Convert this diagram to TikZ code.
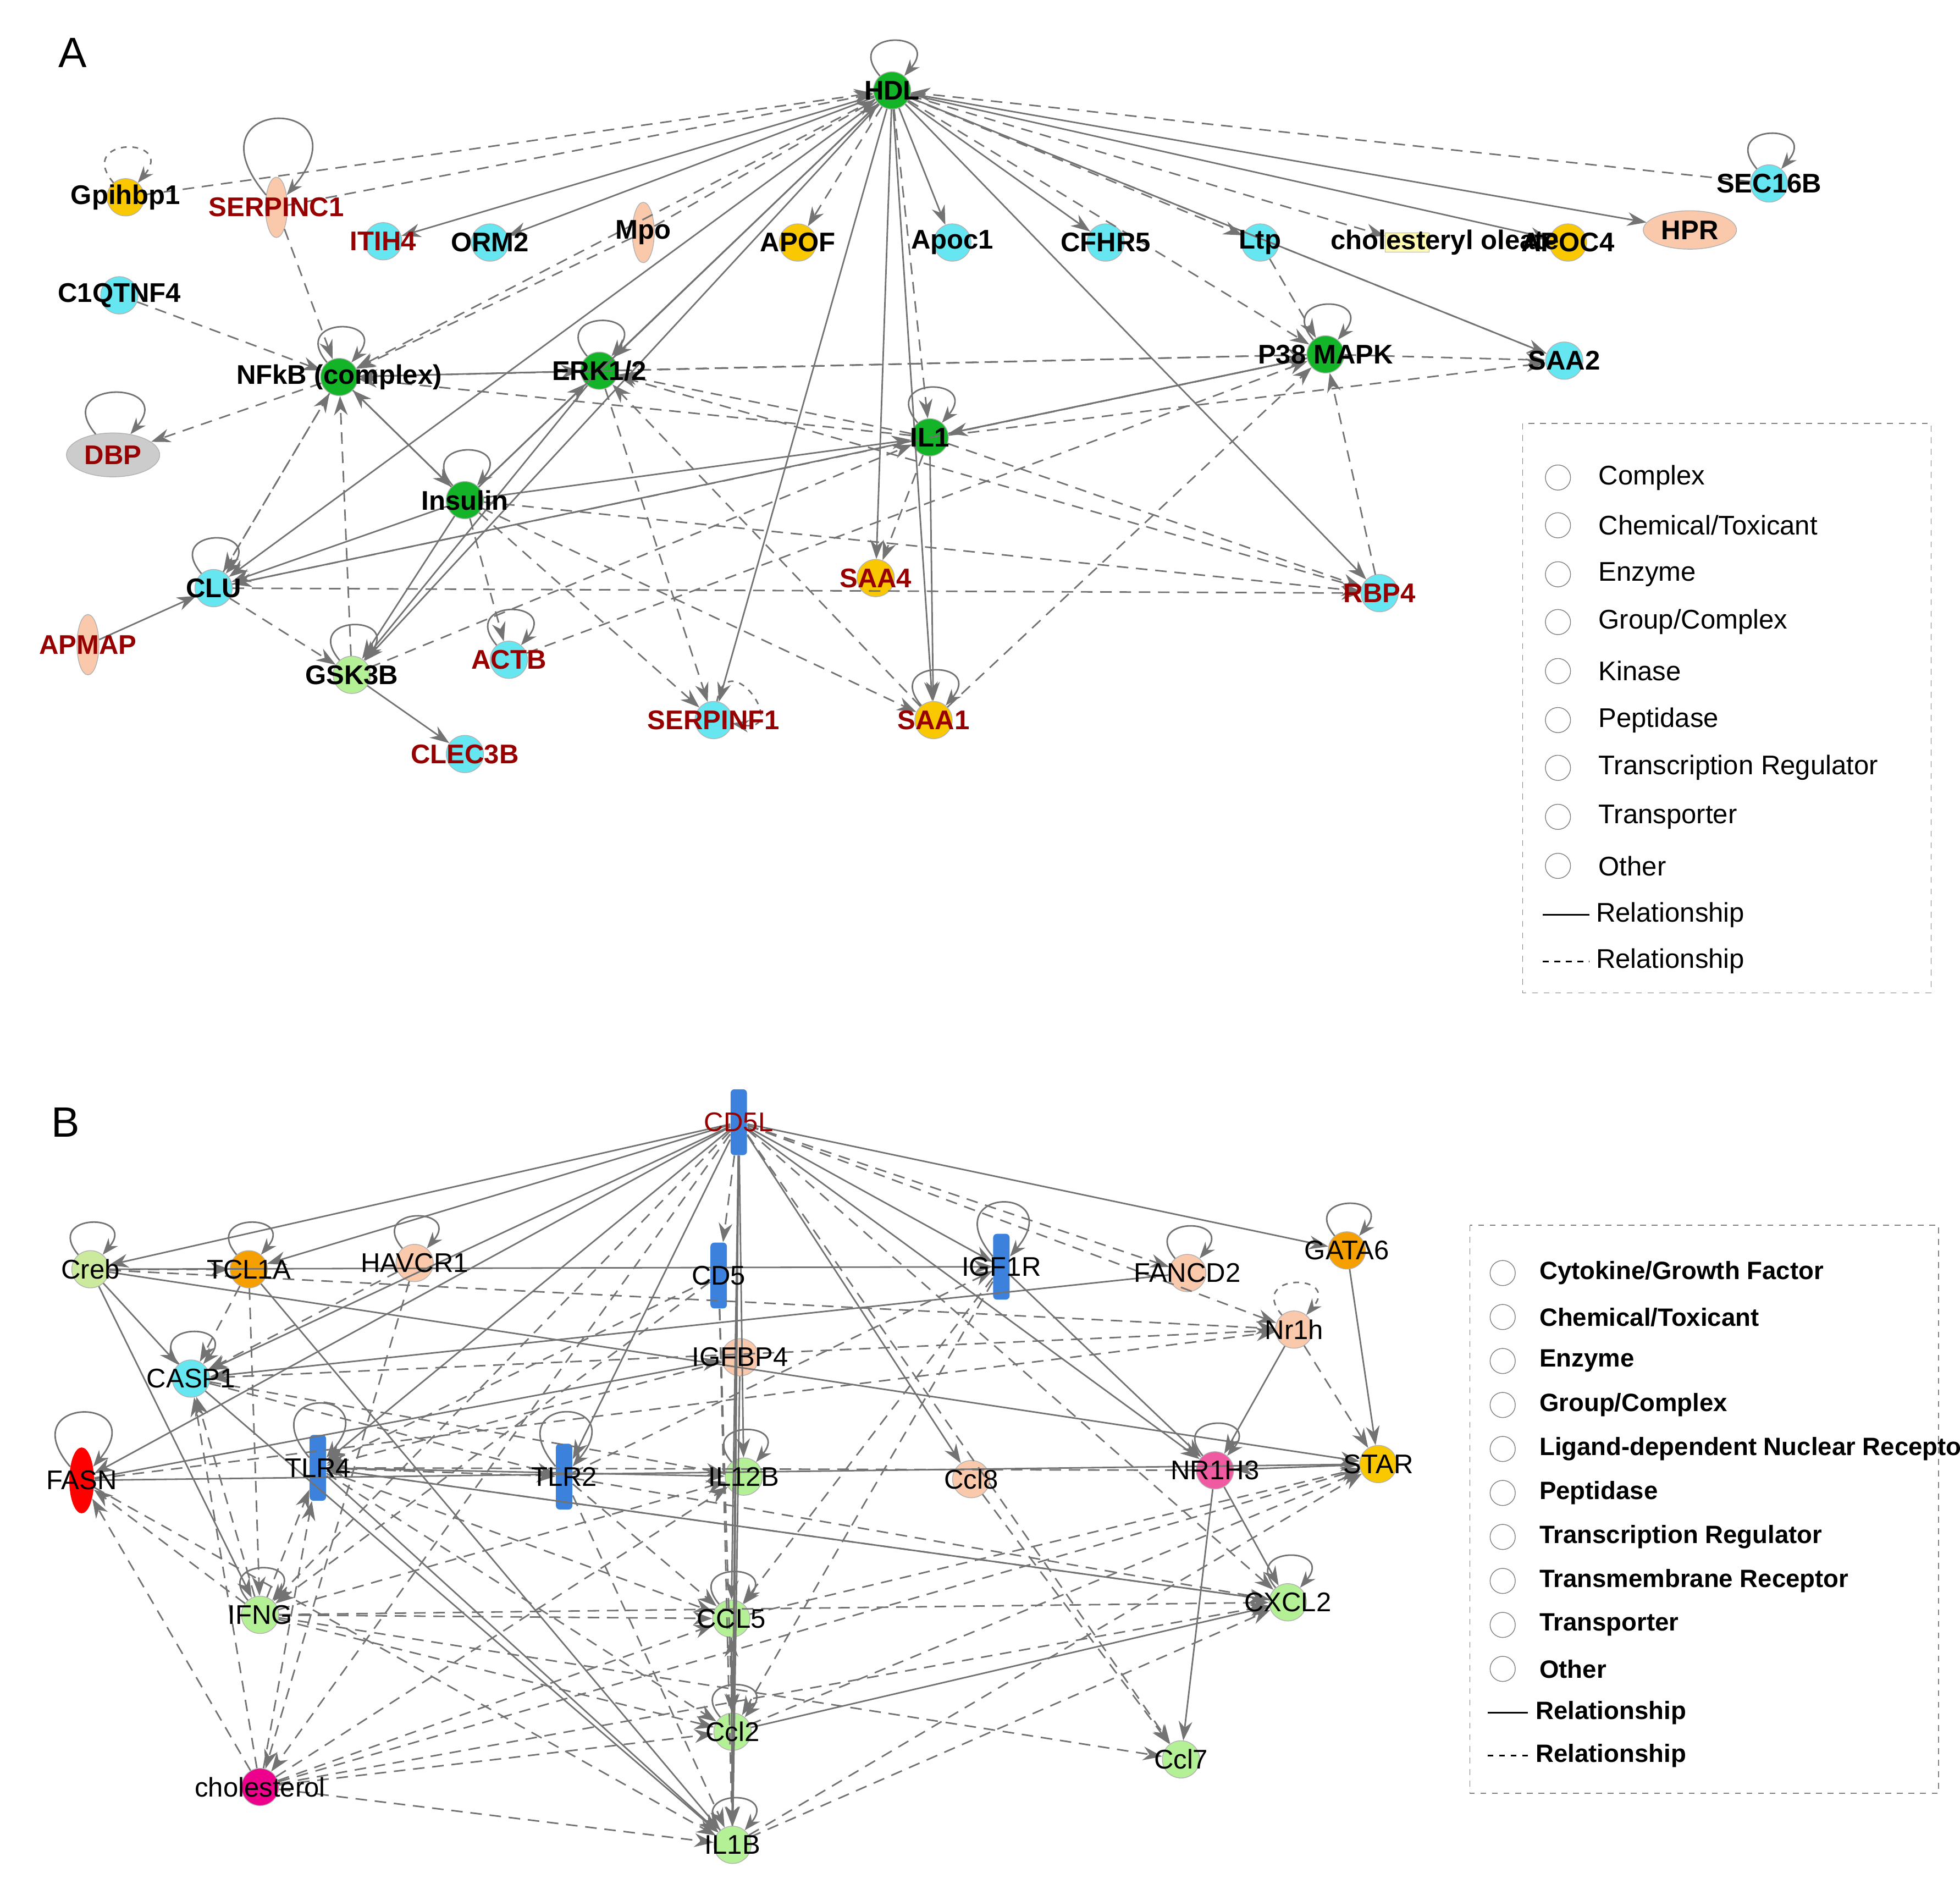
\documentclass[tikz,border=0pt]{standalone}
\usepackage{fontspec}
\setmainfont{Liberation Sans}
\usetikzlibrary{arrows.meta,shapes.geometric}
\definecolor{gcyan}{RGB}{102,230,240}
\definecolor{ggreen}{RGB}{20,180,40}
\definecolor{ggold}{RGB}{250,200,0}
\definecolor{gpeach}{RGB}{250,200,170}
\definecolor{glime}{RGB}{180,240,150}
\definecolor{gblue}{RGB}{60,130,220}
\definecolor{gorange}{RGB}{245,160,0}
\definecolor{gpink}{RGB}{240,90,160}
\definecolor{gred}{RGB}{150,0,0}
\tikzset{
  gene/.style={circle,draw=gray!60,fill=#1,minimum size=0.68cm,inner sep=0pt},
  enz/.style={ellipse,draw=gray!60,fill=gpeach,minimum width=0.4cm,minimum height=1.1cm,inner sep=0pt},
  rec/.style={rounded corners=2pt,fill=gblue,minimum width=0.3cm,minimum height=1.2cm,inner sep=0pt},
  lab/.style={font=\bfseries\fontsize{14}{16}\selectfont,text=black,inner sep=0pt},
  redlab/.style={lab,text=gred},
  rel/.style={draw=gray!90!black,thick,-{Stealth[length=3.5mm,width=2.5mm]}},
  drel/.style={rel,dashed,dash pattern=on 6pt off 4pt},
  slf/.style={draw=gray!90!black,thick,-{Stealth[length=3mm]}},
  rnd/.style={loop,out=130,in=50,min distance=#1},
  leg/.style={font=\fontsize{14}{16}\selectfont,anchor=west,inner sep=0pt},
  legb/.style={leg,font=\bfseries\fontsize{13}{16}\selectfont}
}
\begin{document}
\begin{tikzpicture}[x=0.0229cm,y=-0.0229cm]
\useasboundingbox (0,0) rectangle (1560,1499);
\node[font=\fontsize{22}{24}\selectfont] at (58,42) {A};
\node[font=\fontsize{22}{24}\selectfont] at (52,893) {B};

% panel A nodes
\foreach \n/\x/\y/\c in {HDL/710/72/ggreen, ITIH/305/192/gcyan, ORM/390/193/gcyan, Apoc/758/193/gcyan,
  CFHR/880/193/gcyan, Ltp/1003/193/gcyan, SEC/1408/146/gcyan, CqT/95/235/gcyan, NFkB/270/300/ggreen,
  ERK/477/295/ggreen, P38/1055/282/ggreen, SAAb/1245/287/gcyan, IL/740/348/ggreen, Ins/370/398/ggreen,
  CLU/170/468/gcyan, RBP/1098/472/gcyan, GSK/280/537/glime, ACTB/405/525/gcyan, SPF/568/573/gcyan,
  CLEC/370/600/gcyan, Gpi/100/157/ggold, APOF/635/193/ggold, APOC/1248/193/ggold, SAAd/697/460/ggold,
  SAAa/743/573/ggold}
  \node[gene=\c] (\n) at (\x,\y) {};
\node[ellipse,draw=gray!60,fill=gray!40,minimum width=1.7cm,minimum height=0.8cm] (DBP) at (90,362) {};
\node[enz] (SPC) at (220,165) {};
\node[enz] (Mpo) at (512,185) {};
\node[enz] (APM) at (70,513) {};
\node[ellipse,draw=gray!60,fill=gpeach,minimum width=1.7cm,minimum height=0.7cm] (HPR) at (1345,183) {};
\node[draw=gray!60,fill=yellow!30,minimum width=0.8cm,minimum height=0.35cm] (Chol) at (1120,193) {};

% panel A edges
\foreach \a/\b in {HDL/ITIH, HDL/ORM, HDL/Apoc, HDL/CFHR, HDL/APOC, HDL/HPR, HDL/SAAb, HDL/RBP, HDL/SAAd,
  HDL/SAAa, HDL/SPF, HDL/CLU, HDL/GSK, Ins/HDL, NFkB/ERK, NFkB/Ins, Ins/NFkB, Ins/ERK, ERK/GSK, P38/IL,
  IL/P38, IL/SAAa, IL/CLU, Ins/IL, Ins/GSK, Ins/CLU, APM/CLU, GSK/CLEC, HDL/ERK}
  \draw[rel] (\a) -- (\b);
\foreach \a/\b in {Mpo/HDL, HDL/APOF, HDL/Ltp, HDL/Chol, SEC/HDL, Gpi/HDL, SPC/HDL, HDL/IL, HDL/NFkB,
  HDL/P38, NFkB/DBP, CqT/NFkB, SPC/NFkB, P38/NFkB, IL/NFkB, CLU/NFkB, GSK/NFkB, Mpo/NFkB, ERK/P38,
  IL/ERK, ERK/SPF, SAAa/ERK, RBP/ERK, IL/SAAb, RBP/P38, SAAa/P38, P38/SAAb, IL/SAAd, IL/RBP, GSK/IL,
  Ins/RBP, Ins/SPF, Ins/ACTB, Ins/SAAa, CLU/GSK, CLU/RBP, NFkB/CLU, CLU/P38, HDL/SAAb, Ltp/P38, ACTB/P38}
  \draw[drel] (\a) -- (\b);
\foreach \n in {HDL, SEC, NFkB, ERK, P38, IL, Ins, CLU, GSK, ACTB, SAAa}
  \draw[slf] (\n) to[rnd=1.1cm] (\n);
\draw[slf] (DBP) to[rnd=1.3cm] (DBP);
\draw[slf,dashed] (Gpi) to[rnd=1.1cm] (Gpi);
\draw[slf,dashed] (SPF) to[loop,out=80,in=-10,min distance=1.1cm] (SPF);
\draw[slf] (SPC) to[rnd=2.4cm] (SPC);

% panel A labels
\foreach \n/\t in {HDL/HDL, ORM/ORM2, Apoc/Apoc1, CFHR/CFHR5, Ltp/Ltp, SEC/SEC16B, CqT/C1QTNF4,
  NFkB/NFkB (complex), ERK/{ERK1/2}, P38/P38 MAPK, SAAb/SAA2, IL/IL1, Ins/Insulin, CLU/CLU, GSK/GSK3B,
  Gpi/Gpihbp1, APOF/APOF, APOC/APOC4, HPR/HPR, Mpo/Mpo}
  \node[lab] at (\n) {\t};
\node[lab] at (1150,193) {cholesteryl oleate};
\foreach \n/\t in {ITIH/ITIH4, DBP/DBP, RBP/RBP4, SAAd/SAA4, ACTB/ACTB, SPF/SERPINF1, SAAa/SAA1,
  CLEC/CLEC3B, APM/APMAP, SPC/SERPINC1}
  \node[redlab] at (\n) {\t};

% legend A
\draw[dashed,gray] (1212,337) rectangle (1537,790);
\foreach \y/\t in {380/Complex, 418/{Chemical/Toxicant}, 457/Enzyme, 495/{Group/Complex}, 534/Kinase,
  573/Peptidase, 611/Transcription Regulator, 650/Transporter, 689/Other}
  {\draw[gray] (1240,\y) circle (10);
   \node[leg] at (1272,\y) {\t};}
\draw[thick,black] (1228,728) -- (1265,728);
\draw[thick,black,dashed] (1228,765) -- (1265,765);
\node[leg] at (1270,728) {Relationship};
\node[leg] at (1270,765) {Relationship};

% panel B nodes
\foreach \n/\x/\y/\c in {Creb/72/1010/yellow!50!green!40, TCL/198/1010/gorange, HAV/330/1005/gpeach,
  FAN/945/1013/gpeach, GATA/1072/995/gorange, Nrh/1030/1058/gpeach, IGFB/589/1080/gpeach,
  CASP/152/1097/gcyan, ILt/592/1175/glime, Ccle/773/1177/gpeach, NRH/967/1170/gpink, STAR/1097/1165/ggold,
  IFNG/207/1285/glime, CCLf/582/1288/glime, CXCL/1025/1275/glime, Cclb/583/1378/glime,
  Ccls/940/1400/glime, Chl/207/1422/magenta, ILb/583/1468/glime}
  \node[gene=\c] (\n) at (\x,\y) {};
\node[rec] (CDL) at (588,893) {};
\node[rec] (CDf) at (572,1015) {};
\node[rec] (IGF) at (797,1008) {};
\node[rec] (TLRf) at (253,1168) {};
\node[rec] (TLRb) at (449,1175) {};
\node[ellipse,fill=red,minimum width=0.45cm,minimum height=1.2cm] (FASN) at (65,1178) {};

% panel B edges
\foreach \a/\b in {CDL/Creb, CDL/TCL, CDL/CASP, CDL/TLRf, CDL/TLRb, CDL/IGF, CDL/GATA, CDL/ILt,
  CDL/Ccle, CDL/NRH, CDL/ILb, CDL/CCLf, CDL/Cclb, CDL/FASN, Creb/CASP, TCL/ILb, Creb/STAR, Creb/IGF,
  FAN/CASP, GATA/STAR, NRH/Ccls, NRH/CXCL, STAR/NRH, FASN/STAR, TLRf/ILt, TLRf/ILb, CASP/ILb,
  IGF/NRH, Nrh/NRH, ILb/CCLf, CCLf/ILb, IGFB/ILb, Creb/IFNG, FASN/IGFB, CXCL/TLRf, Cclb/CXCL}
  \draw[rel] (\a) -- (\b);
\foreach \a/\b in {CDL/CDf, CDL/Nrh, CDL/CXCL, CDL/Ccls, CDL/IFNG, CDL/Chl, CDL/FAN, Nrh/STAR, Nrh/CASP,
  FASN/Nrh, HAV/CASP, TCL/CASP, IFNG/CASP, IFNG/TLRf, IFNG/CCLf, IFNG/Cclb, IFNG/CXCL, IFNG/ILt, IFNG/Ccls,
  IFNG/FASN, Chl/FASN, Chl/CASP, Chl/TLRf, Chl/CCLf, Chl/Cclb, Chl/CXCL, Chl/STAR, Chl/ILb, Chl/ILt,
  TLRb/ILb, TLRb/CCLf, TLRf/Cclb, TLRf/CCLf, TLRf/CXCL, TLRb/CXCL, Ccle/Ccls, CCLf/STAR, Cclb/STAR,
  ILb/CXCL, ILb/STAR, Creb/TCL, Creb/Nrh, CDf/TLRf, CDf/IFNG, CDf/ILb, CDf/Cclb, IGF/CCLf, IGF/Cclb,
  CASP/TLRb, CASP/ILt, TLRf/TLRb, NRH/TLRf, IGFB/TLRf, TLRb/IGF, HAV/Chl, FASN/ILb, TCL/IFNG}
  \draw[drel] (\a) -- (\b);
\foreach \n in {Creb, TCL, HAV, CASP, FAN, GATA, ILt, NRH, CXCL, IFNG, CCLf, Cclb, ILb}
  \draw[slf] (\n) to[rnd=1cm] (\n);
\foreach \n in {FASN, TLRf, TLRb, IGF}
  \draw[slf] (\n) to[rnd=1.7cm] (\n);
\draw[slf,dashed] (Nrh) to[rnd=1cm] (Nrh);

% panel B labels
\foreach \n/\t in {Creb/Creb, TCL/TCL1A, HAV/HAVCR1, CDf/CD5, IGF/IGF1R, FAN/FANCD2, GATA/GATA6,
  Nrh/Nr1h, IGFB/IGFBP4, CASP/CASP1, FASN/FASN, TLRf/TLR4, TLRb/TLR2, ILt/IL12B, Ccle/Ccl8,
  NRH/NR1H3, STAR/STAR, IFNG/IFNG, CCLf/CCL5, CXCL/CXCL2, Cclb/Ccl2, Ccls/Ccl7, Chl/cholesterol, ILb/IL1B}
  \node[lab,font=\fontsize{14}{16}\selectfont] at (\n) {\t};
\node[redlab,font=\fontsize{14}{16}\selectfont] at (CDL) {CD5L};

% legend B
\draw[dashed,gray] (1170,975) rectangle (1543,1427);
\foreach \y/\t in {1013/{Cytokine/Growth Factor}, 1048/{Chemical/Toxicant}, 1083/Enzyme, 1118/{Group/Complex},
  1153/Ligand-dependent Nuclear Recepto, 1188/Peptidase, 1223/Transcription Regulator,
  1258/Transmembrane Receptor, 1293/Transporter, 1328/Other}
  {\draw[gray] (1196,\y) circle (10);
   \node[legb] at (1225,\y) {\t};}
\draw[thick,black] (1184,1363) -- (1216,1363);
\draw[thick,black,dashed] (1184,1397) -- (1216,1397);
\node[legb] at (1222,1363) {Relationship};
\node[legb] at (1222,1397) {Relationship};
\end{tikzpicture}
\end{document}
